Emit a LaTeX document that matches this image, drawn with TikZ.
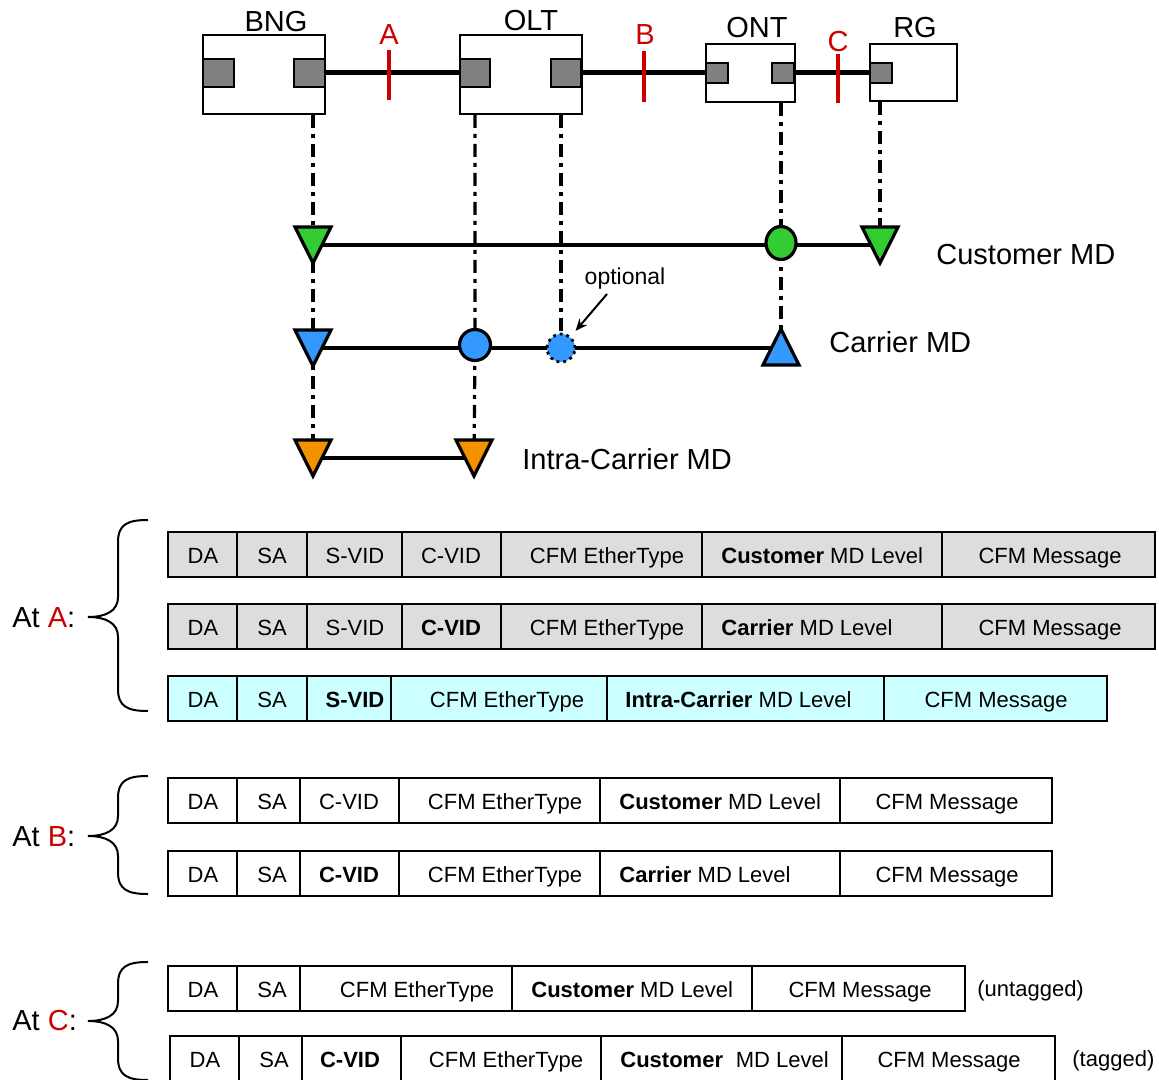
\documentclass[tikz,border=0pt]{standalone}
\usepackage{fontspec}
\setmainfont{Liberation Sans}
\usetikzlibrary{arrows.meta,calc,shapes.geometric}
\definecolor{mdgreen}{HTML}{33CC33}
\definecolor{mdblue}{HTML}{3399FF}
\definecolor{mdorange}{HTML}{F39200}
\definecolor{mdred}{HTML}{CC0000}
\definecolor{portgray}{HTML}{808080}
\definecolor{cellgray}{HTML}{DDDDDD}
\definecolor{cellcyan}{HTML}{CCFFFF}
\newcommand{\framerow}[4]{%
  \foreach \xa/\xb/\tx/\an/\tt [count=\i] in {#4} {%
    \draw[cellbox, fill=#3] (\xa,#2) rectangle (\xb,#2+45);
    \node[celltxt, anchor=\an] (#1-\i) at (\tx,#2+31) {\tt};
  }}
\newcommand{\mybrace}[3]{%
  \draw[bracestyle] (148,#1) .. controls (128,#1) and (118,#1+4) .. (118,#1+22)
    -- (118,#2-20) .. controls (118,#2-6) and (106,#2) .. (88,#2)
    .. controls (106,#2) and (118,#2+6) .. (118,#2+20)
    -- (118,#3-22) .. controls (118,#3-4) and (128,#3) .. (148,#3);}
\begin{document}
\begin{tikzpicture}[x=0.5pt,y=-0.5pt,
  devbox/.style={draw, line width=1pt, fill=white, inner sep=0, anchor=north west},
  port/.style={draw, line width=0.8pt, fill=portgray, inner sep=0, anchor=north west},
  link/.style={line width=2.6pt},
  redmark/.style={draw=mdred, line width=2.3pt},
  lbl/.style={font=\fontsize{14.5}{17}\selectfont, inner sep=0, anchor=base},
  vline/.style={line width=1.6pt, dash pattern=on 6.5pt off 3pt on 2pt off 3pt},
  mdline/.style={line width=1.6pt},
  mdcirc/.style={circle, draw, line width=1.6pt, minimum size=15.5pt, inner sep=0},
  cellbox/.style={draw, line width=1pt},
  celltxt/.style={font=\fontsize{11}{13}\selectfont, inner sep=0},
  bracestyle/.style={line width=1pt},
  pics/dtri/.style={code={\draw[line width=1.6pt, line join=miter, fill=#1] (-18,-18) -- (18,-18) -- (0,18) -- cycle;}},
  pics/utri/.style={code={\draw[line width=1.6pt, line join=miter, fill=#1] (-18,17) -- (18,17) -- (0,-19) -- cycle;}}
]
\useasboundingbox (0,0) rectangle (1159,1079);

% devices
\node[devbox, minimum width=61pt, minimum height=39.5pt] (bng) at (202,34) {};
\node[devbox, minimum width=61pt, minimum height=39.5pt] (olt) at (459,34) {};
\node[devbox, minimum width=44.5pt, minimum height=29pt] (ont) at (705,43) {};
\node[devbox, minimum width=43.5pt, minimum height=28.5pt] (rg) at (869,43) {};
\node[port, minimum width=15.5pt, minimum height=14pt] (bngl) at (202,58) {};
\node[port, minimum width=15.5pt, minimum height=14pt] (bngr) at (293,58) {};
\node[port, minimum width=15pt, minimum height=14pt] (oltl) at (459,58) {};
\node[port, minimum width=15pt, minimum height=14pt] (oltr) at (550,58) {};
\node[port, minimum width=11pt, minimum height=10pt] (ontl) at (705,62) {};
\node[port, minimum width=11pt, minimum height=10pt] (ontr) at (771,62) {};
\node[port, minimum width=11pt, minimum height=10pt] (rgl) at (869,62) {};
\node[lbl] (tbng) at (276,32) {BNG};
\node[lbl] (tolt) at (531,31) {OLT};
\node[lbl] (tont) at (757,38) {ONT};
\node[lbl] (trg) at (915,38) {RG};

\draw[link] (bngr.east) -- (oltl.west);
\draw[link] (oltr.east) -- (ontl.west);
\draw[link] (ontr.east) -- (rgl.west);

\draw[redmark] (389,50) -- (389,100);
\draw[redmark] (644,51) -- (644,102);
\draw[redmark] (838,54) -- (838,103);
\node[lbl, text=mdred] (tA) at (389,45) {A};
\node[lbl, text=mdred] (tB) at (645,45) {B};
\node[lbl, text=mdred] (tC) at (838,52) {C};

% MD points
\coordinate (g1) at (313,245);
\coordinate (g3) at (880,245);
\coordinate (b1) at (313,348);
\coordinate (b4) at (781,348);
\coordinate (o1) at (313,458);
\coordinate (o2) at (474,458);
\coordinate (g2c) at (781,243);
\coordinate (b2c) at (475,345);
\coordinate (b3c) at (561,348);

% dash-dot verticals
\draw[vline] (g1 |- bng.south) -- (g1) -- (b1) -- (o1);
\draw[vline] (b2c |- olt.south) -- (b2c) -- (o2);
\draw[vline] (b3c |- olt.south) -- (b3c);
\draw[vline] (g2c |- ont.south) -- (g2c) -- (b4);
\draw[vline] (g3 |- rg.south) -- (g3);

% MD lines
\draw[mdline] (g1) -- (g3);
\draw[mdline] (b1) -- (b4);
\draw[mdline] (o1) -- (o2);

\node[ellipse, draw, line width=1.6pt, inner sep=0, fill=mdgreen, minimum width=15pt, minimum height=16.5pt] (g2) at (g2c) {};
\node[mdcirc, fill=mdblue] (b2) at (b2c) {};
\node[circle, draw, fill=mdblue, line width=1.4pt, dotted, minimum size=14pt, inner sep=0] (b3) at (b3c) {};
\pic at (g1) {dtri=mdgreen};
\pic at (g3) {dtri=mdgreen};
\pic at (b1) {dtri=mdblue};
\pic at (b4) {utri=mdblue};
\pic at (o1) {dtri=mdorange};
\pic at (o2) {dtri=mdorange};

\node[lbl, anchor=base west] (tcust) at (936,265) {Customer MD};
\node[lbl, anchor=base west] (tcarr) at (829,353) {Carrier MD};
\node[lbl, anchor=base west] (tintra) at (522,469) {Intra-Carrier MD};
\node[font=\fontsize{11.5}{13}\selectfont, inner sep=0, anchor=base] (topt) at (625,285) {optional};
\draw[line width=1pt, -{Stealth[length=6pt,width=5pt]}, shorten >=3.5pt] (607,294) -- (b3);

% frames
\framerow{a1}{532}{cellgray}{168/237/203/base/DA, 237/307/272/base/SA, 307/402/355/base/S-VID, 402/501/451/base/C-VID, 501/702/607/base/CFM EtherType, 702/942/721/base west/{\textbf{Customer} MD Level}, 942/1155/1050/base/CFM Message}
\framerow{a2}{604}{cellgray}{168/237/203/base/DA, 237/307/272/base/SA, 307/402/355/base/S-VID, 402/501/451/base/\textbf{C-VID}, 501/702/607/base/CFM EtherType, 702/942/721/base west/{\textbf{Carrier} MD Level}, 942/1155/1050/base/CFM Message}
\framerow{a3}{676}{cellcyan}{168/237/203/base/DA, 237/307/272/base/SA, 307/391/355/base/\textbf{S-VID}, 391/607/507/base/CFM EtherType, 607/884/625/base west/{\textbf{Intra-Carrier} MD Level}, 884/1107/996/base/CFM Message}
\framerow{b1}{778}{white}{168/237/203/base/DA, 237/300/272/base/SA, 300/399/349/base/C-VID, 399/600/505/base/CFM EtherType, 600/840/619/base west/{\textbf{Customer} MD Level}, 840/1052/947/base/CFM Message}
\framerow{b2}{851}{white}{168/237/203/base/DA, 237/300/272/base/SA, 300/399/349/base/\textbf{C-VID}, 399/600/505/base/CFM EtherType, 600/840/619/base west/{\textbf{Carrier} MD Level}, 840/1052/947/base/CFM Message}
\framerow{c1}{966}{white}{168/237/203/base/DA, 237/300/272/base/SA, 300/512/417/base/CFM EtherType, 512/752/531/base west/{\textbf{Customer} MD Level}, 752/965/860/base/CFM Message}
\framerow{c2}{1036}{white}{170/239/205/base/DA, 239/302/274/base/SA, 302/401/350/base/\textbf{C-VID}, 401/601/506/base/CFM EtherType, 601/842/620/base west/{\textbf{Customer}\hspace{0.3em} MD Level}, 842/1055/949/base/CFM Message}
\node[celltxt, anchor=base west] (tuntag) at (977,996) {(untagged)};
\node[celltxt, anchor=base west] (ttag) at (1072,1066) {(tagged)};

% braces and labels
\mybrace{520}{617}{711}
\mybrace{776}{836}{894}
\mybrace{962}{1021}{1080}
\node[lbl, anchor=base west] (atA) at (12,627) {At \textcolor{mdred}{A}:};
\node[lbl, anchor=base west] (atB) at (12,846) {At \textcolor{mdred}{B}:};
\node[lbl, anchor=base west] (atC) at (12,1030) {At \textcolor{mdred}{C}:};
\end{tikzpicture}
\end{document}
